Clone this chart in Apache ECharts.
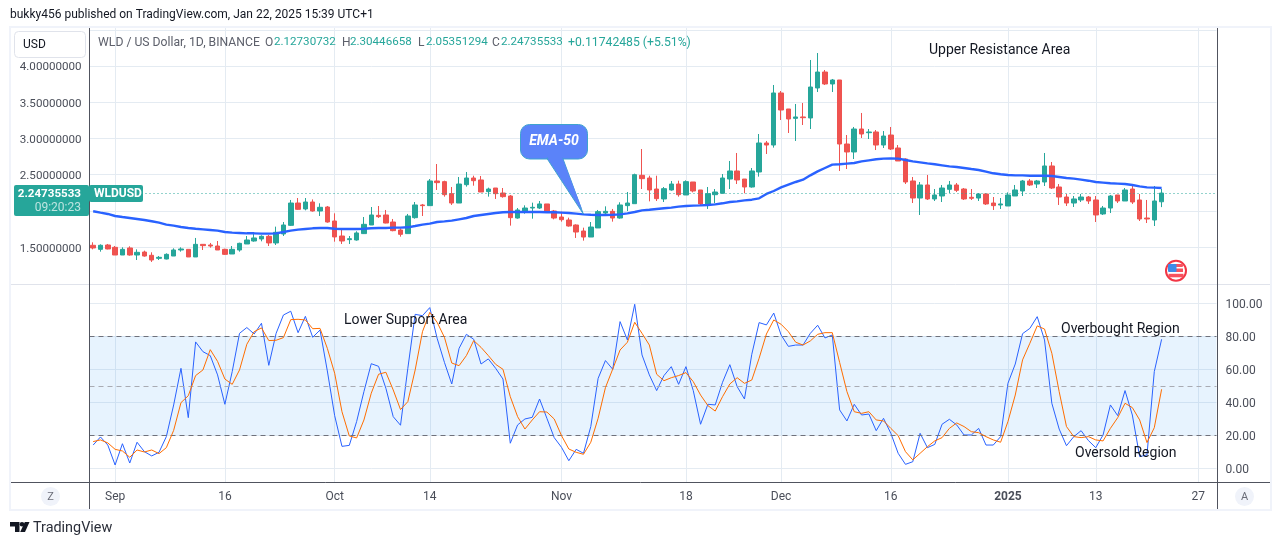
<!DOCTYPE html>
<html><head><meta charset="utf-8">
<style>html,body{margin:0;padding:0;background:#fff}#c{width:1281px;height:545px}</style>
<script src="https://cdn.jsdelivr.net/npm/echarts@6/dist/echarts.min.js"></script>
</head><body><div id="c"></div>
<script>
const firstDate = '2024-08-29';
const totalSlots = 154;
const tickDates = ['2024-09-01','2024-09-16','2024-10-01','2024-10-14','2024-11-01','2024-11-18','2024-12-01','2024-12-16','2025-01-01','2025-01-13','2025-01-27'];
const tickTexts = ['Sep','16','Oct','14','Nov','18','Dec','16','2025','13','27'];
const priceTicks = [1.5,2,2.5,3,3.5,4,4.5];
const priceLabels = [1.5,2,2.5,3,3.5,4];
const stochTicks = [0,20,40,60,80,100];
const opens = [1.527,1.471,1.531,1.499,1.393,1.490,1.393,1.434,1.389,1.347,1.338,1.379,1.462,1.471,1.366,1.540,1.531,1.517,1.471,1.407,1.462,1.545,1.586,1.614,1.651,1.559,1.683,1.802,2.110,2.028,2.124,2.000,2.055,1.862,1.655,1.605,1.600,1.688,1.807,1.940,1.945,1.848,1.738,1.688,1.908,2.083,
2.074,2.414,2.405,2.239,2.110,2.363,2.455,2.428,2.267,2.317,2.248,2.207,1.903,2.000,2.041,2.041,2.097,2.000,1.917,1.876,1.807,1.724,1.641,1.766,1.972,1.995,1.903,2.074,2.101,2.492,2.455,2.303,2.166,2.290,2.372,2.221,2.400,2.290,2.092,2.225,2.244,2.441,2.552,2.441,2.331,2.538,2.938,2.910,3.628,3.407,3.278,3.297,3.283,3.697,3.917,3.752,3.807,2.924,
2.814,3.131,3.080,3.090,2.910,3.048,2.869,2.717,2.414,2.179,2.359,2.166,2.207,2.299,2.359,2.303,2.189,2.179,2.235,2.110,2.083,2.069,2.207,2.276,2.414,2.372,2.400,2.621,2.331,2.193,2.110,2.152,2.193,2.152,1.959,2.041,2.221,2.138,2.303,2.152,1.903,1.876,2.1273];
const closes = [1.490,1.527,1.476,1.393,1.471,1.393,1.430,1.379,1.324,1.361,1.402,1.462,1.476,1.366,1.540,1.522,1.517,1.462,1.402,1.471,1.554,1.600,1.628,1.651,1.559,1.706,1.807,2.110,2.023,2.124,2.000,2.051,1.848,1.642,1.586,1.618,1.697,1.816,1.945,1.922,1.834,1.729,1.678,1.931,2.083,2.074,
2.414,2.391,2.225,2.110,2.372,2.455,2.418,2.262,2.303,2.239,2.198,1.908,2.014,2.041,2.051,2.097,1.991,1.903,1.880,1.793,1.710,1.641,1.779,1.991,1.995,1.903,2.083,2.110,2.501,2.446,2.290,2.170,2.308,2.372,2.225,2.405,2.276,2.097,2.239,2.262,2.455,2.552,2.428,2.331,2.552,2.938,2.910,3.628,3.393,3.269,3.297,3.287,3.710,3.917,3.752,3.807,2.924,2.814,
3.131,3.062,3.090,2.910,3.034,2.855,2.690,2.400,2.179,2.359,2.166,2.221,2.317,2.359,2.285,2.166,2.175,2.235,2.097,2.074,2.097,2.221,2.290,2.414,2.359,2.414,2.621,2.317,2.193,2.110,2.166,2.193,2.138,1.945,2.041,2.207,2.138,2.290,2.124,1.890,1.890,2.138,2.2474];
const lows = [1.471,1.439,1.471,1.393,1.393,1.384,1.324,1.370,1.297,1.324,1.333,1.379,1.439,1.366,1.366,1.462,1.494,1.462,1.393,1.407,1.439,1.545,1.577,1.582,1.517,1.531,1.655,1.793,2.014,2.009,1.991,1.931,1.839,1.577,1.545,1.545,1.591,1.683,1.807,1.904,1.830,1.720,1.646,1.688,1.894,1.931,
2.074,2.290,2.198,2.083,2.110,2.336,2.349,2.262,2.198,2.166,2.184,1.798,1.894,1.963,1.894,2.028,1.986,1.885,1.853,1.784,1.628,1.591,1.641,1.766,1.945,1.853,1.894,2.000,2.101,2.303,2.133,2.138,2.124,2.280,2.198,2.221,2.257,2.074,2.028,2.106,2.244,2.303,2.372,2.244,2.322,2.474,2.786,2.874,3.255,3.076,2.966,3.186,3.131,3.641,3.738,3.641,2.552,2.579,
2.717,3.007,2.993,2.841,2.869,2.841,2.690,2.372,2.110,1.945,2.152,2.138,2.124,2.248,2.262,2.152,2.152,2.138,2.083,2.014,2.028,2.069,2.207,2.207,2.345,2.317,2.345,2.303,2.083,2.069,2.055,2.124,2.097,1.848,1.945,1.972,2.110,2.138,2.097,1.862,1.834,1.793,2.0535];
const highs = [1.568,1.540,1.545,1.517,1.499,1.513,1.471,1.453,1.430,1.379,1.416,1.485,1.499,1.471,1.628,1.540,1.559,1.586,1.480,1.517,1.563,1.655,1.692,1.665,1.669,1.784,1.848,2.152,2.179,2.179,2.160,2.106,2.069,1.968,1.747,1.655,1.720,1.917,2.055,2.069,2.014,1.890,1.761,1.959,2.124,2.097,
2.441,2.648,2.418,2.331,2.469,2.538,2.487,2.483,2.322,2.317,2.317,2.221,2.041,2.078,2.115,2.138,2.097,2.014,1.991,1.908,1.816,1.770,1.848,2.014,2.064,2.028,2.120,2.262,2.515,2.855,2.487,2.487,2.331,2.414,2.418,2.423,2.400,2.290,2.331,2.303,2.510,2.690,2.800,2.441,2.593,3.062,2.966,3.738,3.655,3.407,3.476,3.490,4.083,4.179,3.945,3.821,3.807,3.048,
3.159,3.352,3.131,3.117,3.103,3.159,2.910,2.726,2.469,2.400,2.497,2.303,2.359,2.414,2.386,2.317,2.303,2.248,2.244,2.193,2.179,2.257,2.359,2.428,2.441,2.428,2.800,2.676,2.372,2.235,2.207,2.235,2.207,2.207,2.069,2.221,2.221,2.317,2.372,2.235,2.152,2.345,2.3045];
const ema50 = [1.996,1.977,1.959,1.931,1.917,1.904,1.890,1.876,1.858,1.839,1.812,1.798,1.779,1.766,1.756,1.747,1.738,1.729,1.710,1.701,1.697,1.692,1.692,1.688,1.688,1.692,1.710,1.729,1.743,1.752,1.761,1.766,1.766,1.756,1.752,1.752,1.752,1.756,1.761,1.766,1.766,1.770,1.770,1.775,1.793,1.812,
1.825,1.848,1.857,1.867,1.885,1.903,1.931,1.945,1.959,1.972,1.982,1.986,1.986,1.986,1.986,1.986,1.982,1.982,1.977,1.972,1.963,1.954,1.949,1.945,1.945,1.949,1.954,1.968,1.986,2.009,2.018,2.028,2.037,2.046,2.060,2.069,2.074,2.078,2.083,2.092,2.106,2.124,2.133,2.147,2.156,2.175,2.235,2.276,2.326,2.363,2.400,2.432,2.492,2.547,2.593,2.639,2.644,2.653,
2.662,2.685,2.699,2.713,2.722,2.726,2.722,2.703,2.685,2.671,2.657,2.644,2.630,2.616,2.607,2.593,2.579,2.566,2.543,2.520,2.506,2.497,2.492,2.492,2.487,2.487,2.487,2.483,2.469,2.455,2.446,2.432,2.418,2.400,2.391,2.382,2.377,2.372,2.359,2.340,2.326,2.322,2.317];
const stochK = [14.1,19.0,14.1,2.0,14.9,3.2,15.8,10.1,7.5,9.7,19.2,38.4,60.6,30.7,76.6,70.7,68.3,56.6,38.8,58.6,81.8,85.3,81.4,87.9,62.4,81.8,92.9,95.2,82.2,92.1,79.4,83.8,59.0,31.9,13.3,13.9,28.3,46.5,63.4,61.8,48.5,31.3,26.1,60.6,93.3,92.5,
97.4,78.8,64.2,51.1,72.7,81.2,78.2,63.2,66.3,60.6,54.1,15.2,26.3,29.9,30.9,42.0,30.3,18.6,12.7,4.6,11.5,9.1,25.3,54.5,65.3,60.0,88.9,77.8,99.4,68.7,56.6,47.1,56.2,61.6,50.9,61.6,47.1,26.7,38.8,38.4,52.1,62.8,49.5,42.0,69.1,88.3,86.9,94.1,80.8,73.9,74.7,74.7,81.8,86.7,79.0,80.8,35.4,28.7,
38.8,32.3,32.9,22.8,30.3,21.2,9.1,2.4,4.0,21.2,12.5,14.5,26.7,29.7,26.3,20.2,20.2,24.2,14.1,14.1,19.2,51.5,63.2,81.6,84.8,91.9,77.8,39.4,23.8,13.7,19.2,22.8,16.8,12.5,20.2,38.4,31.9,47.1,32.3,7.1,8.1,58.6,78.2];
const stochD = [16.2,17.2,15.4,11.5,10.5,6.7,11.1,9.9,11.1,8.9,12.5,23.0,39.8,44.0,56.2,59.6,71.9,64.8,54.1,50.9,59.6,75.2,82.8,85.1,77.4,77.6,79.2,90.1,90.3,89.9,84.6,84.8,72.7,57.6,34.3,19.6,18.4,29.3,45.5,57.0,58.2,47.5,35.6,40.4,59.6,82.8,
94.5,88.5,79.4,63.8,62.2,68.3,77.4,73.3,68.3,63.0,60.0,43.4,31.3,23.8,29.3,34.3,34.1,29.9,19.8,11.7,9.7,8.5,15.8,30.3,48.9,60.2,71.7,76.4,88.5,81.8,74.7,57.0,53.1,54.9,56.2,58.0,52.5,44.4,38.0,34.7,43.4,51.1,54.9,51.5,53.5,66.7,81.4,89.9,87.3,82.8,76.4,74.7,77.2,81.2,82.2,82.2,64.2,46.5,
34.3,33.3,34.3,29.3,28.7,24.2,19.8,10.1,5.1,9.1,13.1,16.6,18.6,24.2,27.5,25.3,22.2,21.6,19.2,17.2,15.8,28.3,44.4,65.7,75.8,86.3,84.4,69.7,46.5,25.3,19.2,18.6,19.2,17.2,16.6,24.2,30.7,39.4,36.8,29.3,15.6,24.6,47.9];
const stochLevels = [80,50,20];
const lastPrice = 2.24735533;
const headerText = 'bukky456 published on TradingView.com, Jan 22, 2025 15:39 UTC+1';
const legendTitle = 'WLD / US Dollar, 1D, BINANCE';

const UP='#26A69A', DOWN='#EF5350', GRID='#E4EBF2', DARK='#50535E', TXT='#4A4E59';
const FONT='Roboto, sans-serif';

const dates=[];
{const d=new Date(firstDate+'T00:00:00Z');
 for(let i=0;i<totalSlots;i++){dates.push(d.toISOString().slice(0,10));d.setUTCDate(d.getUTCDate()+1);}}
const isTick=(i,v)=>tickDates.includes(v);
const candles=opens.map((o,i)=>[o,closes[i],lows[i],highs[i]]);

const txt=(x,y,text,fill,size,extra)=>({type:'text',x,y,z:50,silent:true,
  style:Object.assign({text,fill,font:`${size||12}px ${FONT}`,textVerticalAlign:'middle'},extra||{})});
const ln=(x1,y1,x2,y2,stroke,w)=>({type:'line',z:40,silent:true,shape:{x1,y1,x2,y2},style:{stroke,lineWidth:w||1}});
const rect=(x,y,width,height,fill,r,extra)=>({type:'rect',z:45,silent:true,shape:{x,y,width,height,r:r||0},style:Object.assign({fill},extra||{})});

const graphics=[
  txt(10,15,headerText,'#131722',12),
  rect(10,27,1261,483,'transparent',0,{stroke:'#F0F3FA',lineWidth:2}),
  ln(10,284.5,1271,284.5,'#E0E3EB',1),
  ln(89.5,27,89.5,510,DARK,1),
  ln(1217.5,27,1217.5,510,DARK,1),
  ln(10,482.5,1271,482.5,DARK,1),
  rect(14.5,31.5,71,26,'#fff',4,{stroke:'#E0E3EB',lineWidth:1}),
  txt(23,45,'USD','#131722',12),
  txt(98,42.5,legendTitle,'#5D606B',12.2),
  txt(265,42.5,'O','#5D606B',12),txt(274,42.5,'2.12730732',UP,11.6),
  txt(342,42.5,'H','#5D606B',12),txt(350,42.5,'2.30446658',UP,11.6),
  txt(418,42.5,'L','#5D606B',12),txt(426,42.5,'2.05351294',UP,11.6),
  txt(492,42.5,'C','#5D606B',12),txt(501,42.5,'2.24735533',UP,11.6),
  txt(568,42.5,'+0.11742485 (+5.51%)',UP,12.2),
  txt(929,50,'Upper Resistance Area','#131722',14),
  txt(344,320,'Lower Support Area','#131722',14),
  txt(1061,329,'Overbought Region','#131722',14),
  txt(1075,453,'Oversold Region','#131722',14),
  rect(14,185,75,31,UP,2),
  txt(81,194,'2.24735533','#fff',12,{textAlign:'right',font:`bold 11.6px ${FONT}`}),
  txt(81,208,'09:20:23','#BDE4E0',12,{textAlign:'right'}),
  rect(89,185,54,17,UP,2),
  txt(94,194,'WLDUSD','#fff',12,{font:`bold 12px ${FONT}`}),
  {type:'polygon',z:46,silent:true,shape:{points:[[546.7,158],[562.7,158],[583.3,214]]},style:{fill:'#5B83F9',stroke:'#3FA3CF',lineWidth:1}},
  rect(520.5,124.5,67,34.5,'#5B83F9',9,{stroke:'#3FA3CF',lineWidth:1}),
  {type:'polygon',z:47,silent:true,shape:{points:[[547.5,157],[562,157],[582,209]]},style:{fill:'#5B83F9'}},
  {type:'text',z:50,silent:true,x:554,y:141.5,style:{text:'EMA-50',fill:'#fff',font:`italic bold 14px ${FONT}`,textAlign:'center',textVerticalAlign:'middle'}},
  {type:'circle',z:45,silent:true,shape:{cx:50.5,cy:496.5,r:9.5},style:{fill:'#F0F3FA'}},
  txt(50.5,497,'Z','#6A6D78',11,{textAlign:'center'}),
  {type:'circle',z:45,silent:true,shape:{cx:1244.5,cy:496.5,r:9.5},style:{fill:'#F0F3FA'}},
  txt(1244.5,497,'A','#6A6D78',11,{textAlign:'center'}),
  {type:'circle',z:45,silent:true,shape:{cx:1176,cy:270.7,r:10},style:{fill:'#fff',stroke:'#F23645',lineWidth:2}},
  rect(1169,268.5,14,3.5,'#F7525F',0),
  rect(1168.5,273.8,15,3.5,'#F7525F',0),
  rect(1170,264,13,3,'#F7525F',1),
  rect(1168,264,8.5,8,'#3D8BE8',1),
  {type:'polygon',z:45,silent:true,shape:{points:[[10,522],[19.5,522],[19.5,532],[15,532],[15,526.5],[10,526.5]]},style:{fill:'#131722'}},
  {type:'circle',z:45,silent:true,shape:{cx:22,cy:524.3,r:2.3},style:{fill:'#131722'}},
  {type:'polygon',z:45,silent:true,shape:{points:[[24.8,522],[29.5,522],[25,532],[20.2,532]]},style:{fill:'#131722'}},
  txt(33,528,'TradingView','#2A2E39',14.4)
];

const xCommon={type:'category',data:dates,boundaryGap:true,
  axisLine:{show:false},axisTick:{show:false},
  splitLine:{show:true,alignWithLabel:true,interval:isTick,lineStyle:{color:GRID,width:1}}};

const chart=echarts.init(document.getElementById('c'),null,{renderer:'canvas'});
chart.setOption({
  animation:false,backgroundColor:'#fff',
  grid:[
    {left:89.5,width:1127,top:27,height:257},
    {left:89.5,width:1127,top:285,height:197.3}
  ],
  xAxis:[
    Object.assign({},xCommon,{gridIndex:0,axisLabel:{show:false}}),
    Object.assign({},xCommon,{gridIndex:1,axisLabel:{show:true,interval:isTick,hideOverlap:false,margin:9,
      color:TXT,fontFamily:'Roboto',fontSize:12,
      formatter:v=>{const t=tickTexts[tickDates.indexOf(v)];return t==='2025'?'{b|2025}':t;},
      rich:{b:{fontWeight:'bold',color:TXT,fontFamily:'Roboto',fontSize:12}}}})
  ],
  yAxis:[
    {type:'value',gridIndex:0,position:'left',min:0.993,max:4.538,
     axisLine:{show:false},axisTick:{show:false,customValues:priceTicks},
     axisLabel:{show:true,customValues:priceLabels,margin:8,color:TXT,fontFamily:'Roboto',fontSize:11.6,
       formatter:v=>'{a|'+v.toFixed(8)+'}',
       rich:{a:{padding:[3,0,0,0],color:TXT,fontFamily:'Roboto',fontSize:11.6}}},
     splitLine:{show:true,lineStyle:{color:GRID,width:1}}},
    {type:'value',gridIndex:1,position:'right',min:-8.48,max:111.09,
     axisLine:{show:false},axisTick:{show:false,customValues:stochTicks},
     axisLabel:{show:true,customValues:stochTicks,margin:9,color:TXT,fontFamily:'Roboto',fontSize:12,
       formatter:v=>'{a|'+v.toFixed(2)+'}',
       rich:{a:{padding:[3,0,0,0],color:TXT,fontFamily:'Roboto',fontSize:12}}},
     splitLine:{show:true,lineStyle:{color:GRID,width:1}}}
  ],
  series:[
    {type:'candlestick',name:'WLDUSD',xAxisIndex:0,yAxisIndex:0,data:candles,barWidth:5,
     itemStyle:{color:UP,color0:DOWN,borderColor:UP,borderColor0:DOWN,borderWidth:1},
     markLine:{silent:true,symbol:'none',label:{show:false},animation:false,
       lineStyle:{color:UP,type:[1,3],width:1},data:[{yAxis:lastPrice}]}},
    {type:'line',name:'EMA-50',xAxisIndex:0,yAxisIndex:0,data:ema50,showSymbol:false,smooth:false,
     lineStyle:{color:'#2962FF',width:2.4},z:4},
    {type:'line',name:'%K',xAxisIndex:1,yAxisIndex:1,data:stochK,showSymbol:false,
     lineStyle:{color:'#2962FF',width:1},z:4,
     markArea:{silent:true,itemStyle:{color:'rgba(33,150,243,0.11)'},data:[[{yAxis:stochLevels[0]},{yAxis:stochLevels[2]}]]},
     markLine:{silent:true,symbol:'none',label:{show:false},
       data:stochLevels.map(v=>({yAxis:v,lineStyle:{color:v===50?'#A9ABB3':'#6F717B',type:[5,4],width:1}}))}},
    {type:'line',name:'%D',xAxisIndex:1,yAxisIndex:1,data:stochD,showSymbol:false,
     lineStyle:{color:'#FF6D00',width:1},z:5}
  ],
  graphic:graphics
});
</script></body></html>
